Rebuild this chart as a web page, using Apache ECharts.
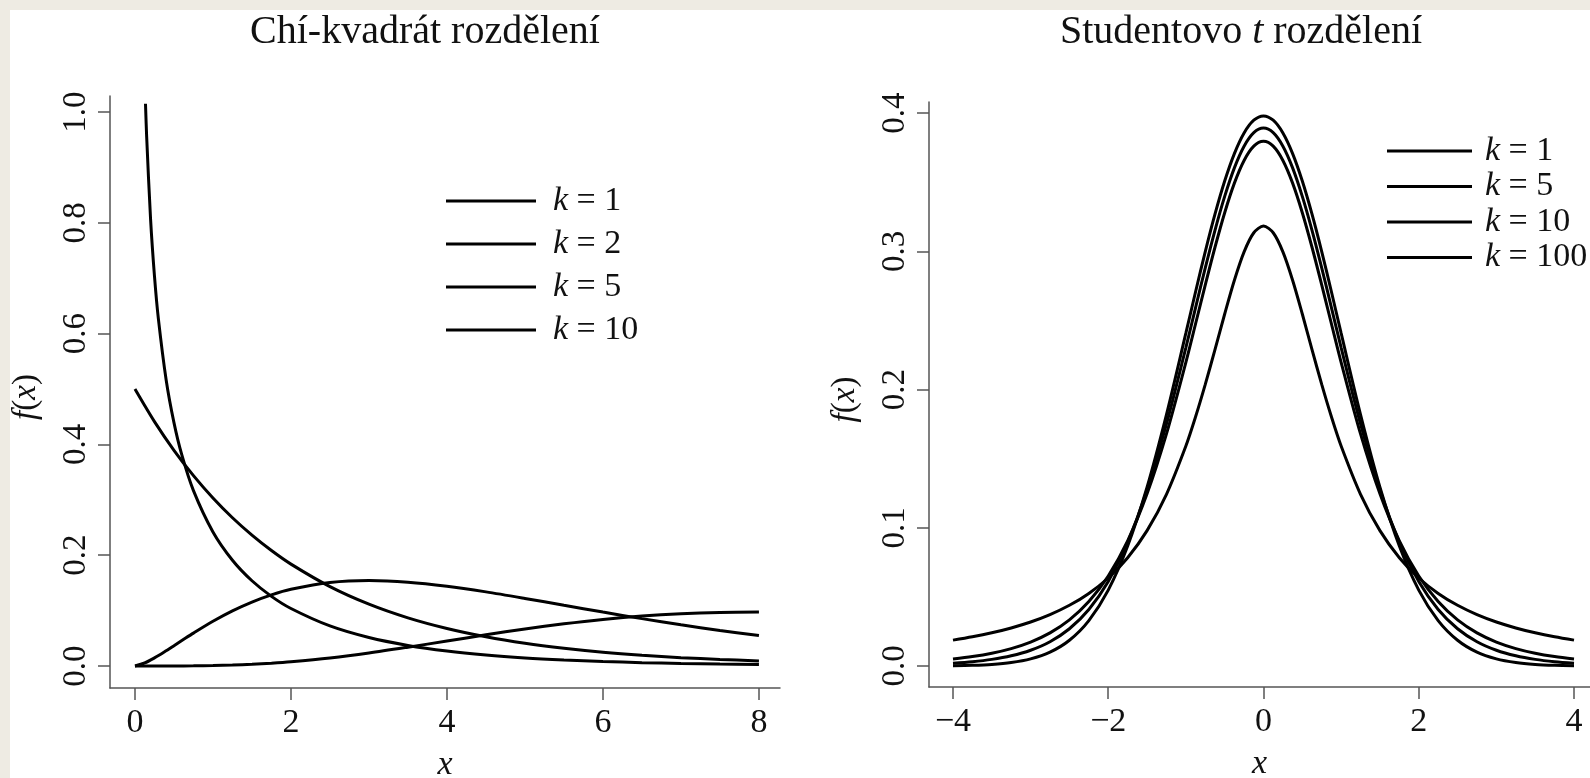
<!DOCTYPE html>
<html>
<head>
<meta charset="utf-8">
<script src="https://cdn.jsdelivr.net/npm/echarts@6/dist/echarts.min.js"></script>
<style>
html,body{margin:0;padding:0;background:#eeebe3;overflow:hidden;}
#c{width:1590px;height:778px;}
</style>
</head>
<body>
<div id="c"></div>
<script>
// ---------- Data ----------
const chiTitle = 'Chí-kvadrát rozdělení';
const tTitle = 'Studentovo t rozdělení';
const chiTicksX = [0, 2, 4, 6, 8];
const chiTicksY = [0, 0.2, 0.4, 0.6, 0.8, 1.0];
const tTicksX = [-4, -2, 0, 2, 4];
const tTicksY = [0, 0.1, 0.2, 0.3, 0.4];

// Chi-square densities
const chiK1X = [0.135, 0.15, 0.2, 0.25, 0.3, 0.4, 0.5, 0.6, 0.75, 1, 1.25, 1.5, 1.75, 2, 2.5, 3, 3.5, 4, 4.5, 5, 5.5, 6, 6.5, 7, 7.5, 8];
const chiK1Y = [1.015, 0.9556, 0.8072, 0.7041, 0.6269, 0.5164, 0.4394, 0.3815, 0.3166, 0.2420, 0.1910, 0.1539, 0.1257, 0.1038, 0.0723, 0.0514, 0.0371, 0.0270, 0.0198, 0.0146, 0.0109, 0.0081, 0.0061, 0.0046, 0.0034, 0.0026];
const chiX = [0, 0.25, 0.5, 0.75, 1, 1.25, 1.5, 1.75, 2, 2.5, 3, 3.5, 4, 4.5, 5, 5.5, 6, 6.5, 7, 7.5, 8];
const chiK2Y = [0.5, 0.4412, 0.3894, 0.3436, 0.3033, 0.2676, 0.2362, 0.2084, 0.1839, 0.1433, 0.1116, 0.0869, 0.0677, 0.0527, 0.0410, 0.0320, 0.0249, 0.0194, 0.0151, 0.0118, 0.0092];
const chiK5X = [0, 0.125, 0.25, 0.375, 0.5, 0.625, 0.75, 1, 1.25, 1.5, 1.75, 2, 2.5, 3, 3.5, 4, 4.5, 5, 5.5, 6, 6.5, 7, 7.5, 8];
const chiK5Y = [0, 0.0055, 0.0147, 0.0253, 0.0366, 0.0481, 0.0594, 0.0807, 0.0995, 0.1154, 0.1284, 0.1384, 0.1506, 0.1542, 0.1513, 0.1440, 0.1338, 0.1220, 0.1096, 0.0973, 0.0855, 0.0744, 0.0642, 0.0551];
const chiK10Y = [0, 0.00001, 0.00006, 0.0003, 0.0008, 0.0017, 0.0031, 0.0051, 0.0077, 0.0146, 0.0235, 0.0340, 0.0451, 0.0563, 0.0668, 0.0761, 0.0840, 0.0902, 0.0944, 0.0968, 0.0976];

// Student t densities
const tX = [-4, -3.75, -3.5, -3.25, -3, -2.75, -2.5, -2.25, -2, -1.75, -1.5, -1.25, -1, -0.875, -0.75, -0.625, -0.5, -0.375, -0.25, -0.125, 0, 0.125, 0.25, 0.375, 0.5, 0.625, 0.75, 0.875, 1, 1.25, 1.5, 1.75, 2, 2.25, 2.5, 2.75, 3, 3.25, 3.5, 3.75, 4];
const tK1Y = [0.01872, 0.02113, 0.02402, 0.02753, 0.03183, 0.03718, 0.04390, 0.05251, 0.06366, 0.07835, 0.09794, 0.12422, 0.15915, 0.18028, 0.20372, 0.22890, 0.25465, 0.27907, 0.29959, 0.31341, 0.31831, 0.31341, 0.29959, 0.27907, 0.25465, 0.22890, 0.20372, 0.18028, 0.15915, 0.12422, 0.09794, 0.07835, 0.06366, 0.05251, 0.04390, 0.03718, 0.03183, 0.02753, 0.02402, 0.02113, 0.01872];
const tK5Y = [0.00512, 0.00685, 0.00924, 0.01259, 0.01729, 0.02393, 0.03333, 0.04657, 0.06509, 0.09054, 0.12452, 0.16790, 0.21968, 0.24758, 0.27570, 0.30292, 0.32792, 0.34930, 0.36572, 0.37607, 0.37961, 0.37607, 0.36572, 0.34930, 0.32792, 0.30292, 0.27570, 0.24758, 0.21968, 0.16790, 0.12452, 0.09054, 0.06509, 0.04657, 0.03333, 0.02393, 0.01729, 0.01259, 0.00924, 0.00685, 0.00512];
const tK10Y = [0.00203, 0.00311, 0.00478, 0.00738, 0.01140, 0.01757, 0.02694, 0.04090, 0.06115, 0.08953, 0.12745, 0.17510, 0.23037, 0.25932, 0.28799, 0.31518, 0.33970, 0.36035, 0.37600, 0.38578, 0.38911, 0.38578, 0.37600, 0.36035, 0.33970, 0.31518, 0.28799, 0.25932, 0.23037, 0.17510, 0.12745, 0.08953, 0.06115, 0.04090, 0.02694, 0.01757, 0.01140, 0.00738, 0.00478, 0.00311, 0.00203];
const tK100Y = [0.00022, 0.00052, 0.00116, 0.00250, 0.00513, 0.01002, 0.01863, 0.03286, 0.05491, 0.08675, 0.12937, 0.18188, 0.24075, 0.27072, 0.29977, 0.32682, 0.35080, 0.37068, 0.38558, 0.39481, 0.39794, 0.39481, 0.38558, 0.37068, 0.35080, 0.32682, 0.29977, 0.27072, 0.24075, 0.18188, 0.12937, 0.08675, 0.05491, 0.03286, 0.01863, 0.01002, 0.00513, 0.00250, 0.00116, 0.00052, 0.00022];

const chiKs = ['1', '2', '5', '10'];
const tKs = ['1', '5', '10', '100'];

// ---------- Chart ----------
const FONT = 'Liberation Serif';
const INK = '#111';
const AXIS = '#555';

function pairs(xs, ys) { return xs.map((x, i) => [x, ys[i]]); }
function fmtNum(v, d) {
  const s = Math.abs(v).toFixed(d);
  return v < 0 ? '\u2212' + s : s;
}

function xAxisOpt(grid, min, max, ticks) {
  return {
    type: 'value', gridIndex: grid, min: min, max: max,
    axisLine: { show: true, onZero: false, lineStyle: { color: AXIS, width: 1.5 } },
    axisTick: { show: true, customValues: ticks, length: 12, lineStyle: { color: AXIS, width: 1.5 } },
    axisLabel: { customValues: ticks, formatter: v => fmtNum(v, 0), margin: 18,
      fontFamily: FONT, fontSize: 34, color: INK },
    splitLine: { show: false },
    name: 'x', nameLocation: 'middle', nameGap: 60,
    nameTextStyle: { fontFamily: FONT, fontSize: 34, fontStyle: 'italic', color: INK }
  };
}
function yAxisOpt(grid, min, max, ticks) {
  return {
    type: 'value', gridIndex: grid, min: min, max: max,
    axisLine: { show: true, onZero: false, lineStyle: { color: AXIS, width: 1.5 } },
    axisTick: { show: true, customValues: ticks, length: 12, lineStyle: { color: AXIS, width: 1.5 } },
    axisLabel: { customValues: ticks, formatter: v => fmtNum(v, 1), rotate: 90, margin: 17,
      fontFamily: FONT, fontSize: 33, color: INK },
    splitLine: { show: false },
    name: '{i|f}{n|(}{i|x}{n|)}', nameLocation: 'middle', nameGap: 67,
    nameTextStyle: { fontFamily: FONT, fontSize: 33, color: INK, padding: [0, 10, 0, 0],
      rich: {
        i: { fontFamily: FONT, fontSize: 33, fontStyle: 'italic', color: INK },
        n: { fontFamily: FONT, fontSize: 33, color: INK }
      } }
  };
}

function lineSeries(name, xi, yi, data) {
  return {
    name: name, type: 'line', xAxisIndex: xi, yAxisIndex: yi,
    data: data, showSymbol: false, symbol: 'none', smooth: 0.3,
    color: '#000',
    lineStyle: { color: '#000', width: 3 },
    animation: false
  };
}

function legendOpt(names, left, top, gap, lineW, textGap) {
  const rich = {
    g: { width: textGap, fontFamily: FONT, fontSize: 34 },
    i: { fontFamily: FONT, fontSize: 34, fontStyle: 'italic', color: INK },
    n: { fontFamily: FONT, fontSize: 34, color: INK }
  };
  return {
    data: names, orient: 'vertical', left: left, top: top, padding: 0,
    itemWidth: lineW, itemHeight: 3, icon: 'rect', itemGap: gap,
    selectedMode: false,
    formatter: name => '{g| }{i|k}{n| = ' + name.split('_')[1] + '}',
    textStyle: { fontFamily: FONT, fontSize: 34, color: INK, rich: rich }
  };
}

const chart = echarts.init(document.getElementById('c'), null, { renderer: 'canvas' });
chart.setOption({
  backgroundColor: '#eeebe3',
  animation: false,
  graphic: [{ type: 'rect', left: 10, top: 10, z: -100,
    shape: { width: 1580, height: 768 }, style: { fill: '#ffffff' } }],
  title: [
    { text: chiTitle, left: 420, top: 7, textAlign: 'center',
      textStyle: { fontFamily: FONT, fontSize: 40, fontWeight: 'normal', color: INK } },
    { text: '{n|Studentovo }{i|t}{n| rozdělení}', left: 1236, top: 7, textAlign: 'center',
      textStyle: { fontFamily: FONT, fontSize: 40, fontWeight: 'normal', color: INK,
        rich: {
          n: { fontFamily: FONT, fontSize: 40, color: INK },
          i: { fontFamily: FONT, fontSize: 40, fontStyle: 'italic', color: INK }
        } } }
  ],
  grid: [
    { left: 110, top: 96, width: 670, height: 592, outerBoundsMode: 'none', containLabel: false },
    { left: 929, top: 102, width: 661, height: 585, outerBoundsMode: 'none', containLabel: false }
  ],
  xAxis: [
    xAxisOpt(0, -0.32, 8.27, chiTicksX),
    xAxisOpt(1, -4.309, 4.206, tTicksX)
  ],
  yAxis: [
    yAxisOpt(0, -0.0397, 1.0289, chiTicksY),
    yAxisOpt(1, -0.0152, 0.408, tTicksY)
  ],
  legend: [
    legendOpt(chiKs.map(k => 'chi_' + k), 446, 184, 9, 90, 12),
    legendOpt(tKs.map(k => 't_' + k), 1387, 134, 1.5, 85, 8)
  ],
  series: [
    lineSeries('chi_1', 0, 0, pairs(chiK1X, chiK1Y)),
    lineSeries('chi_2', 0, 0, pairs(chiX, chiK2Y)),
    lineSeries('chi_5', 0, 0, pairs(chiK5X, chiK5Y)),
    lineSeries('chi_10', 0, 0, pairs(chiX, chiK10Y)),
    lineSeries('t_1', 1, 1, pairs(tX, tK1Y)),
    lineSeries('t_5', 1, 1, pairs(tX, tK5Y)),
    lineSeries('t_10', 1, 1, pairs(tX, tK10Y)),
    lineSeries('t_100', 1, 1, pairs(tX, tK100Y))
  ]
});
</script>
</body>
</html>
